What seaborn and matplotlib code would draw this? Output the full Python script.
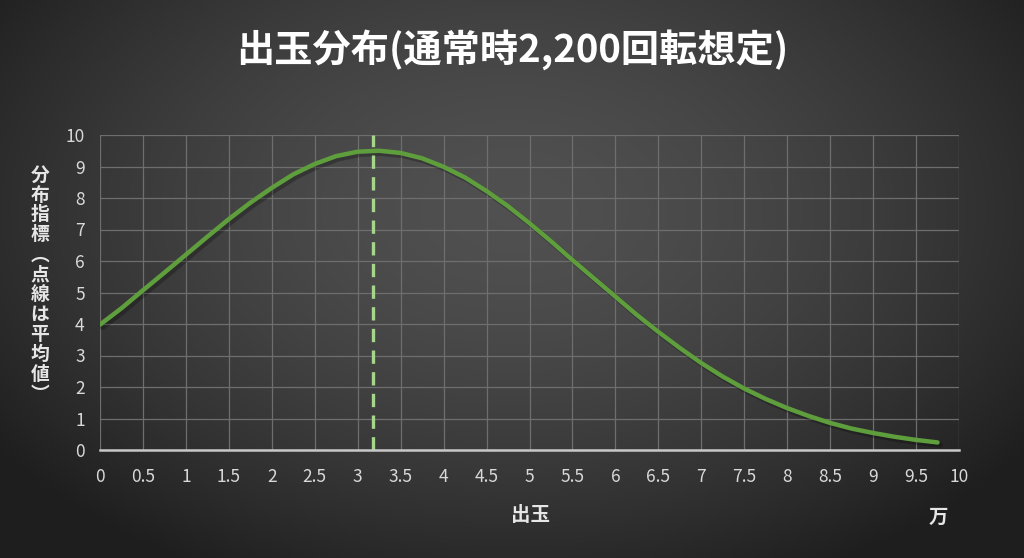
import numpy as np
import pandas as pd
import seaborn as sns
import matplotlib.pyplot as plt

# values (x in 万玉)
dedama = [0, 0.25, 0.5, 0.75, 1.0, 1.25, 1.5, 1.75, 2.0, 2.25,
          2.5, 2.75, 3.0, 3.25, 3.5, 3.75, 4.0, 4.25, 4.5, 4.75,
          5.0, 5.25, 5.5, 5.75, 6.0, 6.25, 6.5, 6.75, 7.0, 7.25,
          7.5, 7.75, 8.0, 8.25, 8.5, 8.75, 9.0, 9.25, 9.5, 9.75]
shihyo = [3.98, 4.5, 5.07, 5.63, 6.2, 6.77, 7.33, 7.85, 8.32, 8.75,
          9.08, 9.33, 9.47, 9.5, 9.43, 9.26, 8.99, 8.65, 8.22, 7.74,
          7.2, 6.63, 6.03, 5.45, 4.87, 4.29, 3.75, 3.24, 2.76, 2.33,
          1.95, 1.62, 1.33, 1.08, 0.86, 0.68, 0.54, 0.42, 0.32, 0.24]
mean_x = 3.18

x_ticks = [i * 0.5 for i in range(21)]
x_labels = ['0', '0.5', '1', '1.5', '2', '2.5', '3', '3.5', '4', '4.5', '5',
            '5.5', '6', '6.5', '7', '7.5', '8', '8.5', '9', '9.5', '10']
y_ticks = list(range(11))

title = '出玉分布(通常時2,200回転想定)'
ylabel = '分布指標︵点線は平均値︶'
xlabel = '出玉'
unit = '万'

sns.set_theme(style='dark')
plt.rcParams['font.family'] = ['Noto Sans CJK JP', 'DejaVu Sans']

df = pd.DataFrame({'dedama': dedama, 'shihyo': shihyo})

fig = plt.figure(figsize=(10.24, 5.58), dpi=100)

# radial gradient background
bg = fig.add_axes([0, 0, 1, 1], zorder=-10)
gx, gy = np.meshgrid(np.linspace(-1, 1, 512), np.linspace(-1, 1, 280))
r = np.sqrt((gx / 1.05) ** 2 + ((gy + 0.25) / 1.25) ** 2)
shade = np.clip(0.315 - 0.15 * r ** 1.6, 0.12, 0.32)
bg.imshow(np.dstack([shade] * 3), aspect='auto', extent=[0, 1, 0, 1])
bg.axis('off')

ax = fig.add_axes([100 / 1024, 108 / 558, 859 / 1024, 315 / 558])
ax.set_facecolor('none')

# subtle shadow then the curve
ax.plot(df['dedama'] + 0.03, df['shihyo'] - 0.08, color='black', alpha=0.25,
        lw=4, solid_capstyle='round', solid_joinstyle='round', zorder=2)
sns.lineplot(data=df, x='dedama', y='shihyo', ax=ax, color='#5f9e3c', lw=3.2,
             zorder=3)
ax.lines[-1].set_solid_capstyle('round')
ax.lines[-1].set_solid_joinstyle('round')
ax.axvline(mean_x, color='#a6d58c', lw=2.4, ls=(0, (4, 2.5)), zorder=4)

ax.set_xlim(0, 10)
ax.set_ylim(0, 10)
ax.set_xticks(x_ticks)
ax.set_xticklabels(x_labels)
ax.set_yticks(y_ticks)
ax.grid(True, color='#6e6e6e', lw=0.9)
for s in ['top', 'right', 'left']:
    ax.spines[s].set_visible(False)
ax.spines['bottom'].set_color('#c8c8c8')
ax.spines['bottom'].set_linewidth(1.8)
ax.spines['bottom'].set_zorder(5)
ax.tick_params(axis='both', length=0, labelsize=12.5, labelcolor='#d9d9d9')
ax.tick_params(axis='x', pad=13)
ax.tick_params(axis='y', pad=11)
ax.set_xlabel('')
ax.set_ylabel('')

fig.text(0.5, 0.912, title, ha='center', va='center', color='white',
         fontsize=27.5, fontweight='bold')
fig.text(0.518, 0.077, xlabel, ha='center', va='center', color='#e6e6e6',
         fontsize=14, fontweight='bold')
fig.text(0.916, 0.073, unit, ha='center', va='center', color='#e6e6e6',
         fontsize=14, fontweight='bold')
fig.text(0.039, 0.49, '\n'.join(ylabel), ha='center', va='center',
         color='#e6e6e6', fontsize=13.5, fontweight='bold', linespacing=1.06)

fig.savefig('out.png', dpi=100)
